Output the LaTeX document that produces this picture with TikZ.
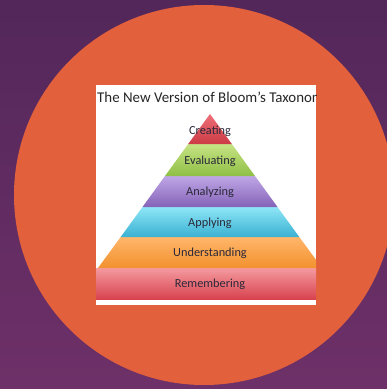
\documentclass[tikz,border=0pt]{standalone}
\usepackage{fontspec}
\setmainfont{Carlito}
\definecolor{bgtop}{HTML}{53275A}
\definecolor{bgbot}{HTML}{6E3068}
\definecolor{circ}{HTML}{E2603B}
\definecolor{txt}{HTML}{2A2838}
\definecolor{crA}{HTML}{EE7078}\definecolor{crB}{HTML}{CC3A45}
\definecolor{evA}{HTML}{C6E384}\definecolor{evB}{HTML}{8FBF45}
\definecolor{anA}{HTML}{BFA6E6}\definecolor{anB}{HTML}{8463B8}
\definecolor{apA}{HTML}{8EE6F6}\definecolor{apB}{HTML}{3AB1D2}
\definecolor{unA}{HTML}{FFB66A}\definecolor{unB}{HTML}{F2912E}
\definecolor{reA}{HTML}{F59AA0}\definecolor{reB}{HTML}{D8434F}
\tikzset{
  lbl/.style={font=\fontsize{12.3}{14}\selectfont, text=txt, inner sep=0pt},
  ttl/.style={font=\fontsize{14.9}{17}\selectfont, text=black!85, inner sep=0pt, anchor=west}
}
\begin{document}
\begin{tikzpicture}[x=1pt,y=-1pt]
\useasboundingbox (0,0) rectangle (387,389);
\shade[top color=bgtop,bottom color=bgbot] (0,0) rectangle (387,389);
\fill[circ] (204,195) circle [radius=190pt];
\fill[white] (96,85) rectangle (316,305);
\begin{scope}
\clip (96,85) rectangle (316,305);
\node[ttl] (title) at (97,98) {The New Version of Bloom’s Taxonomy};
\shade[top color=reA,bottom color=reB] (96,268) rectangle (316,299);
\shade[top color=unA,bottom color=unB] (120.7,237) -- (299.3,237) -- (322,268) -- (98,268) -- cycle;
\shade[top color=apA,bottom color=apB] (142.5,207) -- (277.5,207) -- (299.3,237) -- (120.7,237) -- cycle;
\shade[top color=anA,bottom color=anB] (165,176) -- (255,176) -- (277.5,207) -- (142.5,207) -- cycle;
\shade[top color=evA,bottom color=evB] (188.2,144) -- (231.8,144) -- (255,176) -- (165,176) -- cycle;
\shade[top color=crA,bottom color=crB] (210,114) -- (231.8,144) -- (188.2,144) -- cycle;
\end{scope}
\node[lbl] (cr) at (210,131) {Creating};
\node[lbl] (ev) at (210,161) {Evaluating};
\node[lbl] (an) at (210,192) {Analyzing};
\node[lbl] (ap) at (210,223) {Applying};
\node[lbl] (un) at (210,253) {Understanding};
\node[lbl] (re) at (210,284) {Remembering};
\end{tikzpicture}
\end{document}
